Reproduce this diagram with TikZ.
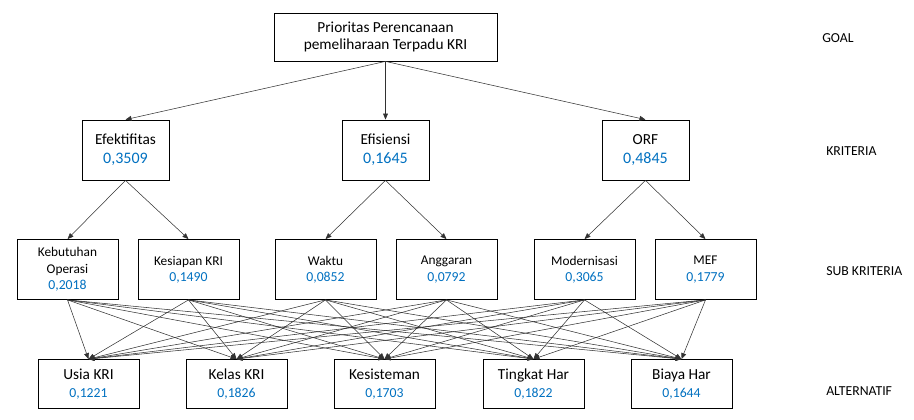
\documentclass[tikz,border=0pt]{standalone}
\usepackage{fontspec}
\setmainfont{Carlito}
\usepackage{tikz}
\usetikzlibrary{arrows.meta,positioning}
\definecolor{valblue}{RGB}{0,112,192}
\definecolor{edgegray}{RGB}{50,50,50}
\tikzset{
  box/.style    ={draw, line width=0.6pt, align=center, inner sep=0pt},
  goalbox/.style={box, minimum width=167.25pt, minimum height=36pt,
                  font=\fontsize{11.5}{12.5}\selectfont},
  kritbox/.style={box, minimum width=65.25pt, minimum height=45pt,
                  font=\fontsize{11.5}{14.25}\selectfont},
  subbox/.style ={box, minimum width=75.75pt, minimum height=45pt,
                  font=\fontsize{10}{12.2}\selectfont},
  altbox/.style ={box, minimum width=75.75pt, minimum height=36.75pt,
                  font=\fontsize{11.5}{13.5}\selectfont},
  lvl/.style    ={anchor=west, inner sep=0pt, font=\fontsize{10.3}{12}\selectfont},
  arr/.style    ={-{Triangle[length=4.5pt,width=3.6pt]}, line width=0.4pt, draw=edgegray},
}
\newcommand{\val}[2][12]{{\color{valblue}\fontsize{#1}{#1}\selectfont #2}}

\begin{document}
\begin{tikzpicture}[x=0.75pt,y=-0.75pt]
  \useasboundingbox (0,0) rectangle (914,420);
  % goal
  \node[goalbox] (goal) at (385.5,37) {Prioritas Perencanaan\\pemeliharaan Terpadu KRI};
  % kriteria
  \node[kritbox] (efek) at (125.5,150) {Efektifitas\\\val{0,3509}};
  \node[kritbox] (efis) at (385.5,150) {Efisiensi\\\val{0,1645}};
  \node[kritbox] (orf)  at (645.5,150) {ORF\\\val{0,4845}};
  % sub kriteria
  \node[subbox] (keb) at (67.5,269.5)  {Kebutuhan\\Operasi\\\val[10.3]{0,2018}};
  \node[subbox] (kes) at (188.5,269.5) {Kesiapan KRI\\\val[10.3]{0,1490}};
  \node[subbox] (wak) at (325.5,269.5) {Waktu\\\val[10.3]{0,0852}};
  \node[subbox] (ang) at (446.5,269.5) {Anggaran\\\val[10.3]{0,0792}};
  \node[subbox] (mod) at (584.5,269.5) {Modernisasi\\\val[10.3]{0,3065}};
  \node[subbox] (mef) at (705.5,269.5) {MEF\\\val[10.3]{0,1779}};
  % alternatif
  \node[altbox] (usia)    at (88.5,384)  {Usia KRI\\\val[10.3]{0,1221}};
  \node[altbox] (kelas)   at (236.5,384) {Kelas KRI\\\val[10.3]{0,1826}};
  \node[altbox] (kesis)   at (384.5,384) {Kesisteman\\\val[10.3]{0,1703}};
  \node[altbox] (tingkat) at (533.5,384) {Tingkat Har\\\val[10.3]{0,1822}};
  \node[altbox] (biaya)   at (681.5,384) {Biaya Har\\\val[10.3]{0,1644}};
  % level labels
  \node[lvl] (lgoal) at (822,38)  {GOAL};
  \node[lvl] (lkrit) at (826,151) {KRITERIA};
  \node[lvl] (lsub)  at (826,271) {SUB KRITERIA};
  \node[lvl] (lalt)  at (826,391) {ALTERNATIF};
  % connectors
  \foreach \k in {efek,efis,orf}
    \draw[arr] (goal.south) -- (\k.north);
  \draw[arr] (efek.south) -- (keb.north);
  \draw[arr] (efek.south) -- (kes.north);
  \draw[arr] (efis.south) -- (wak.north);
  \draw[arr] (efis.south) -- (ang.north);
  \draw[arr] (orf.south) -- (mod.north);
  \draw[arr] (orf.south) -- (mef.north);
  \foreach \s in {keb,kes,wak,ang,mod,mef}
    \foreach \a in {usia,kelas,kesis,tingkat,biaya}
      \draw[arr] (\s.south) -- (\a.north);
\end{tikzpicture}
\end{document}
